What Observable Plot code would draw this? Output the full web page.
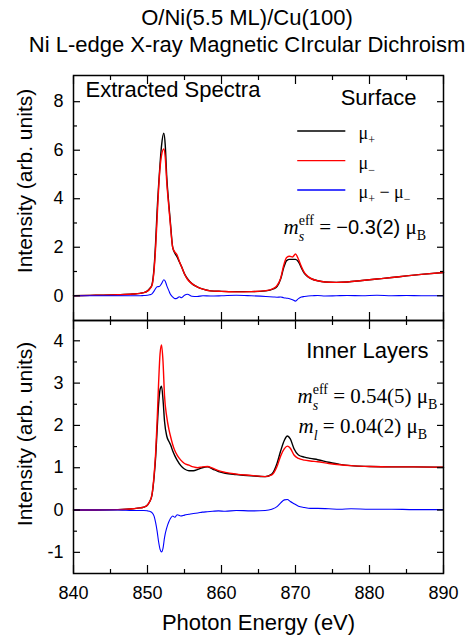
<!DOCTYPE html>
<html>
<head>
<meta charset="utf-8">
<script src="https://cdn.jsdelivr.net/npm/d3@7"></script>
<script src="https://cdn.jsdelivr.net/npm/@observablehq/plot@0.6"></script>
<style>
  body { margin: 0; background: #fff; }
  #chart { width: 470px; height: 635px; position: relative; overflow: hidden; background: #fff; }
  .title {
    height: 62px; box-sizing: border-box; padding: 4px 0 0 24px;
    text-align: center; white-space: nowrap; color: #000;
    font-family: "Liberation Sans", Arial, sans-serif; font-size: 22px; line-height: 27px;
  }
  svg { display: block; }
  svg text { white-space: pre; }
</style>
</head>
<body>
<div id="chart">
  <div class="title">O/Ni(5.5 ML)/Cu(100)<br>Ni L-edge X-ray Magnetic CIrcular Dichroism</div>
</div>
<script>
// ---- Surface spectra (upper panel) ----
const surfaceEnergy = [840, 843, 846, 848, 849, 849.5, 850, 850.3, 850.6, 850.9, 851.1, 851.3, 851.6, 851.9, 852.2, 852.4, 852.6, 852.9, 853.1, 853.4, 853.7, 854.0, 854.3, 854.6, 855.0, 855.4, 856.0, 856.7, 857.5, 858.5, 860, 862, 864, 866, 867, 867.5, 868, 868.4, 868.8, 869.2, 869.6, 870.0, 870.4, 870.8, 871.2, 871.7, 872.3, 873, 874, 875.5, 877, 879, 881, 883, 885, 887, 890];
const surfaceMuPlus = [0.0, 0.02, 0.04, 0.07, 0.1, 0.13, 0.2, 0.3, 0.45, 1.2, 2.2, 3.5, 5.0, 6.2, 6.7, 6.2, 4.9, 3.7, 3.0, 2.0, 1.75, 1.6, 1.4, 1.2, 0.9, 0.7, 0.5, 0.37, 0.27, 0.2, 0.18, 0.17, 0.17, 0.2, 0.28, 0.38, 0.7, 1.15, 1.45, 1.5, 1.5, 1.5, 1.4, 1.15, 0.92, 0.78, 0.68, 0.62, 0.57, 0.55, 0.57, 0.63, 0.69, 0.75, 0.82, 0.88, 0.96];
const surfaceMuMinus = [0.0, 0.02, 0.04, 0.07, 0.1, 0.13, 0.19, 0.28, 0.42, 1.1, 2.0, 3.2, 4.9, 5.8, 6.05, 5.7, 4.7, 3.6, 2.9, 2.0, 1.8, 1.68, 1.42, 1.2, 0.9, 0.68, 0.5, 0.37, 0.27, 0.2, 0.18, 0.16, 0.17, 0.21, 0.3, 0.42, 0.72, 1.25, 1.58, 1.63, 1.6, 1.72, 1.5, 1.2, 0.95, 0.79, 0.68, 0.62, 0.57, 0.55, 0.57, 0.63, 0.69, 0.75, 0.82, 0.88, 0.96];
const surfaceDiff = [0.0, 0.0, 0.0, 0.0, 0.0, 0.01, 0.02, 0.04, 0.08, 0.2, 0.3, 0.37, 0.38, 0.5, 0.66, 0.6, 0.42, 0.2, 0.06, -0.05, -0.12, -0.1, -0.04, -0.08, 0.02, 0.06, -0.02, -0.03, 0.0, -0.01, 0.0, 0.02, 0.0, -0.03, -0.05, -0.06, -0.05, -0.08, -0.1, -0.12, -0.16, -0.22, -0.12, -0.05, -0.03, -0.01, 0.0, 0.01, -0.01, 0.0, 0.01, 0.0, 0.02, 0.0, 0.01, 0.0, 0.0];

// ---- Inner-layer spectra (lower panel) ----
const innerEnergy = [840, 843, 846, 848, 849, 849.5, 850, 850.3, 850.6, 850.9, 851.1, 851.3, 851.5, 851.7, 851.9, 852.1, 852.3, 852.6, 852.9, 853.1, 853.4, 853.7, 854.0, 854.5, 855.0, 855.6, 856.2, 856.8, 857.4, 858.1, 858.8, 859.6, 860.5, 862, 864, 865.9, 866.8, 867.5, 868.0, 868.5, 868.9, 869.3, 869.8, 870.4, 871.2, 872, 873, 874.5, 876, 877.5, 880, 883, 886, 890];
const innerMuPlus = [0.0, 0.0, 0.01, 0.03, 0.05, 0.07, 0.12, 0.2, 0.35, 0.8, 1.25, 1.9, 2.5, 2.85, 2.93, 2.6, 2.1, 1.75, 1.62, 1.55, 1.4, 1.28, 1.18, 1.05, 0.97, 0.93, 0.93, 0.96, 1.0, 1.02, 0.97, 0.91, 0.87, 0.84, 0.81, 0.79, 0.85, 1.1, 1.4, 1.65, 1.75, 1.68, 1.45, 1.3, 1.25, 1.22, 1.19, 1.13, 1.08, 1.05, 1.03, 1.02, 1.02, 1.01];
const innerMuMinus = [0.0, 0.0, 0.01, 0.03, 0.05, 0.07, 0.12, 0.2, 0.36, 0.85, 1.35, 2.1, 3.0, 3.7, 3.9, 3.5, 2.7, 2.2, 1.9, 1.75, 1.55, 1.4, 1.3, 1.18, 1.1, 1.06, 1.02, 1.0, 1.02, 1.03, 0.99, 0.93, 0.89, 0.85, 0.82, 0.79, 0.83, 1.03, 1.28, 1.45, 1.51, 1.46, 1.3, 1.22, 1.18, 1.16, 1.14, 1.1, 1.07, 1.05, 1.03, 1.02, 1.02, 1.01];
const innerDiff = [0.0, 0.0, 0.0, -0.01, -0.01, -0.01, -0.02, -0.03, -0.06, -0.15, -0.3, -0.5, -0.75, -0.93, -0.99, -0.9, -0.65, -0.42, -0.27, -0.2, -0.14, -0.17, -0.11, -0.14, -0.12, -0.1, -0.08, -0.07, -0.05, -0.04, -0.03, -0.02, -0.03, -0.01, -0.02, -0.01, 0.02, 0.08, 0.17, 0.24, 0.25, 0.2, 0.15, 0.09, 0.06, 0.04, 0.04, 0.03, 0.02, 0.03, 0.02, 0.02, 0.01, 0.01];

// ---- Axis ticks ----
const majorXTicks = [840, 850, 860, 870, 880, 890];
const minorXTicks = [845, 855, 865, 875, 885];
const surfaceYTicks = [0, 2, 4, 6, 8];
const surfaceYMinor = [1, 3, 5, 7];
const innerYTicks = [-1, 0, 1, 2, 3, 4];
const innerYMinor = [-0.5, 0.5, 1.5, 2.5, 3.5];

const SANS = '"Liberation Sans", Arial, sans-serif';
const SERIF = '"Liberation Serif", "Times New Roman", serif';

const rows = (energy, values) => energy.map((e, i) => ({E: e, v: values[i]}));

function spectra(energy, plus, minus, diff) {
  return [
    Plot.line(rows(energy, plus), {x: "E", y: "v", stroke: "#000", strokeWidth: 1.4, curve: "monotone-x"}),
    Plot.line(rows(energy, minus), {x: "E", y: "v", stroke: "#ff0000", strokeWidth: 1.4, curve: "monotone-x"}),
    Plot.line(rows(energy, diff), {x: "E", y: "v", stroke: "#0000ff", strokeWidth: 1.1, curve: "monotone-x"})
  ];
}

function frameAxes(yTicks, yMinor, showXLabels) {
  const tick = {stroke: "#000", strokeWidth: 1.2, fill: "none", label: null};
  return [
    Plot.axisY(yTicks, {anchor: "left", tickSize: 0, tickPadding: 10, fontSize: 18, tickFormat: d => String(d), label: null}),
    Plot.axisY(yTicks, {anchor: "left", tickSize: -7, ...tick}),
    Plot.axisY(yMinor, {anchor: "left", tickSize: -4, ...tick}),
    Plot.axisY(yTicks, {anchor: "right", tickSize: -7, ...tick}),
    Plot.axisY(yMinor, {anchor: "right", tickSize: -4, ...tick}),
    Plot.axisX(majorXTicks, {anchor: "top", tickSize: -8, ...tick}),
    Plot.axisX(minorXTicks, {anchor: "top", tickSize: -4, ...tick}),
    Plot.axisX(majorXTicks, {anchor: "bottom", tickSize: -8, ...tick}),
    Plot.axisX(minorXTicks, {anchor: "bottom", tickSize: -4, ...tick}),
    showXLabels ? Plot.axisX(majorXTicks, {anchor: "bottom", tickSize: 0, tickPadding: 13, fontSize: 18, label: null}) : null,
    Plot.frame({stroke: "#000", strokeWidth: 1.5})
  ];
}

const yTitle = (dy) => Plot.text(["Intensity (arb. units)"], {
  frameAnchor: "left", dx: -48, dy, rotate: -90, textAnchor: "middle", fontSize: 21, fontFamily: SANS
});

const common = {
  width: 470, marginLeft: 73, marginRight: 27,
  x: {domain: [840, 890]},
  style: {fontFamily: SANS, fontSize: "18px", background: "transparent", overflow: "visible", color: "#000"}
};

// Upper panel: surface
const surfacePlot = Plot.plot({
  ...common,
  height: 258, marginTop: 13, marginBottom: 0,
  y: {domain: [-1.02, 9.08], label: null},
  marks: [
    ...spectra(surfaceEnergy, surfaceMuPlus, surfaceMuMinus, surfaceDiff),
    ...frameAxes(surfaceYTicks, surfaceYMinor, false),
    yTitle(-17),
    Plot.text(["Extracted Spectra"], {frameAnchor: "top-left", dx: 12, dy: 21, textAnchor: "start", lineAnchor: "bottom", fontSize: 22, fontFamily: SANS}),
    Plot.text(["Surface"], {frameAnchor: "top-right", dx: -27, dy: 29, textAnchor: "end", lineAnchor: "bottom", fontSize: 22, fontFamily: SANS}),
    // legend swatches
    Plot.ruleY([6.79], {x1: 870.3, x2: 876.8, stroke: "#000", strokeWidth: 1.4}),
    Plot.ruleY([5.57], {x1: 870.3, x2: 876.8, stroke: "#ff0000", strokeWidth: 1.4}),
    Plot.ruleY([4.36], {x1: 870.3, x2: 876.8, stroke: "#0000ff", strokeWidth: 1.4}),
    Plot.text(["μ+"], {frameAnchor: "top-left", dx: 285, dy: 63, textAnchor: "start", lineAnchor: "bottom", fontSize: 18, fontFamily: SERIF}),
    Plot.text(["μ-"], {frameAnchor: "top-left", dx: 285, dy: 93, textAnchor: "start", lineAnchor: "bottom", fontSize: 18, fontFamily: SERIF}),
    Plot.text(["μ+ - μ-"], {frameAnchor: "top-left", dx: 285, dy: 122, textAnchor: "start", lineAnchor: "bottom", fontSize: 18, fontFamily: SERIF}),
    Plot.text(["ms eff = -0.3(2) μB"], {frameAnchor: "top-left", dx: 210, dy: 158, textAnchor: "start", lineAnchor: "bottom", fontSize: 21, fontFamily: SERIF})
  ]
});

// Lower panel: inner layers
const innerPlot = Plot.plot({
  ...common,
  height: 315, marginTop: 0, marginBottom: 62,
  y: {domain: [-1.5, 4.48], label: null},
  marks: [
    ...spectra(innerEnergy, innerMuPlus, innerMuMinus, innerDiff),
    ...frameAxes(innerYTicks, innerYMinor, true),
    yTitle(-13),
    Plot.text(["Photon Energy (eV)"], {frameAnchor: "bottom", dy: 41, lineAnchor: "top", textAnchor: "middle", fontSize: 22, fontFamily: SANS}),
    Plot.text(["Inner Layers"], {frameAnchor: "top-right", dx: -15, dy: 37, textAnchor: "end", lineAnchor: "bottom", fontSize: 22, fontFamily: SANS}),
    Plot.text(["ms eff = 0.54(5) μB"], {frameAnchor: "top-left", dx: 224, dy: 82, textAnchor: "start", lineAnchor: "bottom", fontSize: 21, fontFamily: SERIF}),
    Plot.text(["ml = 0.04(2) μB"], {frameAnchor: "top-left", dx: 225, dy: 112, textAnchor: "start", lineAnchor: "bottom", fontSize: 21, fontFamily: SERIF})
  ]
});

const chart = document.getElementById("chart");
chart.append(surfacePlot, innerPlot);

// Rewrite plain label strings as sub/superscripted tspans.
function rich(svg, plain, parts) {
  d3.select(svg).selectAll("text").filter(function () { return this.textContent === plain; }).each(function () {
    const t = d3.select(this);
    t.text(null);
    let shift = 0, pendingDx = 0, prevLen = 0;
    for (const p of parts) {
      const s = t.append("tspan").text(p.t);
      if (p.italic) s.attr("font-style", "italic");
      if (p.font) s.attr("font-family", p.font);
      if (p.size) s.attr("font-size", p.size);
      const target = p.sub ? p.sub : p.sup ? -p.sup : 0;
      if (target !== shift) { s.attr("dy", target - shift); shift = target; }
      let dx = pendingDx; pendingDx = 0;
      if (p.under) dx -= prevLen;
      if (dx) s.attr("dx", dx);
      const len = s.node().getComputedTextLength();
      if (p.under) pendingDx = Math.max(0, prevLen - len);
      prevLen = len;
    }
  });
}

const legendSub = (sym) => [{t: "μ"}, {t: sym, size: 12, sub: 5}];
rich(surfacePlot, "μ+", legendSub("+"));
rich(surfacePlot, "μ-", legendSub("−"));
rich(surfacePlot, "μ+ - μ-", [{t: "μ"}, {t: "+", size: 12, sub: 5}, {t: " − μ"}, {t: "−", size: 12, sub: 5}]);

const msEff = [{t: "m", italic: true}, {t: "eff", size: 14, sup: 9}, {t: "s", size: 14, italic: true, sub: 7, under: true}];
rich(surfacePlot, "ms eff = -0.3(2) μB", [...msEff, {t: " = "}, {t: "−0.3(2)", font: SANS, size: 20}, {t: " μ"}, {t: "B", size: 14, sub: 6}]);
rich(innerPlot, "ms eff = 0.54(5) μB", [...msEff, {t: " = 0.54(5) μ"}, {t: "B", size: 14, sub: 6}]);
rich(innerPlot, "ml = 0.04(2) μB", [{t: "m", italic: true}, {t: "l", size: 14, italic: true, sub: 7}, {t: " = 0.04(2) μ"}, {t: "B", size: 14, sub: 6}]);
</script>
</body>
</html>
